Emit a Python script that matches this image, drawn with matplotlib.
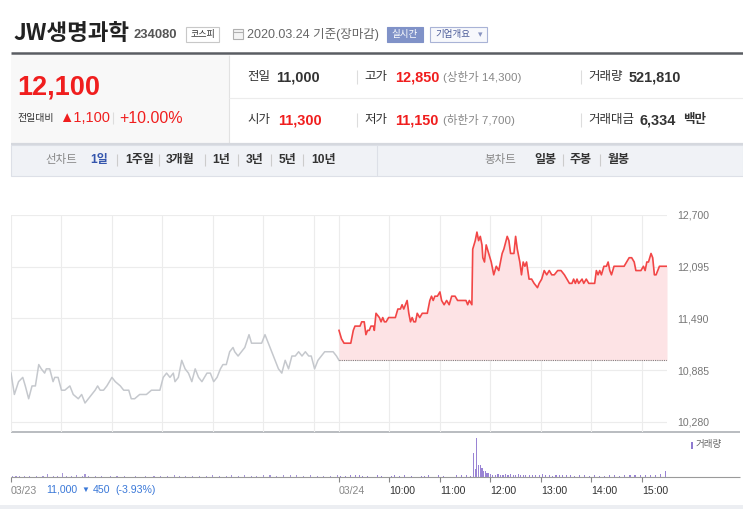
import matplotlib
matplotlib.use('Agg')
import matplotlib.pyplot as plt
from matplotlib.patches import Rectangle

plt.rcParams['font.family'] = ['Liberation Sans', 'Noto Sans CJK KR', 'DejaVu Sans']

# ---------------- data ----------------
# 03/23 (previous day) minute closes, minutes after 09:00
day1_t = [0, 4, 9, 14, 17, 21, 25, 29, 33, 36,
          40, 42, 46, 50, 52, 56, 60, 64, 70, 74,
          80, 84, 88, 92, 96, 100, 103, 106, 110, 114,
          120, 124, 130, 134, 140, 143, 147, 153, 161, 167,
          173, 177, 181, 185, 189, 193, 195, 199, 203, 207,
          211, 215, 219, 223, 227, 233, 237, 241, 245, 249,
          252, 256, 260, 264, 266, 270, 274, 278, 283, 286,
          292, 298, 302, 306, 310, 314, 318, 322, 326, 330,
          334, 338, 342, 346, 350, 354, 357, 361, 365, 369,
          373, 377, 383, 387, 390]
day1_p = [10850, 10600, 10750, 10800, 10700, 10550, 10700, 10700, 10950, 10900,
          10850, 10900, 10900, 10750, 10800, 10800, 10650, 10650, 10700, 10600,
          10550, 10600, 10500, 10550, 10600, 10650, 10700, 10650, 10650, 10700,
          10800, 10750, 10700, 10650, 10650, 10550, 10550, 10600, 10600, 10650,
          10650, 10650, 10800, 10850, 10800, 10850, 10750, 10800, 11000, 10900,
          10850, 10750, 10900, 10800, 10750, 10850, 10850, 10750, 10800, 10900,
          10950, 10950, 11100, 11150, 11100, 11050, 11100, 11150, 11300, 11200,
          11200, 11200, 11300, 11200, 11100, 11000, 10900, 10850, 11000, 10900,
          11050, 11050, 11100, 11050, 11100, 11050, 11050, 10900, 11000, 11050,
          11100, 11100, 11100, 11050, 11000]

# 03/24 minute closes, minutes after 09:00
day2_t = [0, 3, 6, 14, 17, 19, 25, 27, 30, 32,
          34, 36, 38, 41, 42, 44, 48, 50, 52, 54,
          56, 59, 67, 70, 73, 75, 77, 79, 81, 83,
          85, 87, 89, 91, 93, 96, 99, 105, 108, 110,
          112, 114, 117, 120, 122, 125, 128, 131, 134, 138,
          141, 151, 153, 155, 158, 159, 162, 164, 166, 168,
          170, 171, 173, 175, 178, 181, 184, 187, 190, 194,
          196, 200, 202, 204, 208, 210, 212, 215, 217, 219,
          221, 223, 226, 229, 232, 236, 238, 241, 244, 247,
          250, 253, 256, 260, 264, 268, 271, 274, 277, 279,
          281, 283, 285, 289, 291, 294, 297, 304, 306, 308,
          310, 312, 315, 318, 320, 322, 324, 327, 330, 332,
          335, 339, 342, 345, 348, 351, 353, 356, 359, 362,
          364, 366, 368, 371, 373, 375, 377, 381, 385, 390]
day2_p = [11350, 11250, 11200, 11200, 11350, 11400, 11400, 11450, 11450, 11300,
          11350, 11350, 11400, 11400, 11350, 11550, 11500, 11450, 11500, 11450,
          11450, 11500, 11500, 11600, 11600, 11650, 11600, 11650, 11700, 11550,
          11450, 11500, 11450, 11450, 11550, 11500, 11550, 11550, 11700, 11750,
          11700, 11750, 11750, 11800, 11700, 11650, 11700, 11650, 11750, 11750,
          11700, 11700, 11650, 11700, 11650, 12300, 12400, 12500, 12400, 12450,
          12350, 12200, 12150, 12350, 12250, 12150, 12000, 12100, 12050, 12250,
          12300, 12450, 12400, 12250, 12250, 12450, 12300, 12150, 12000, 12150,
          12100, 12150, 11950, 11950, 11900, 11850, 11900, 11950, 12050, 12000,
          12050, 12000, 12000, 12050, 12050, 12000, 11950, 11900, 11900, 11950,
          11900, 11950, 11900, 11950, 11900, 11950, 11900, 11900, 12050, 12000,
          12050, 12000, 12100, 12100, 12150, 12050, 12000, 12100, 12100, 12100,
          12100, 12100, 12150, 12200, 12200, 12150, 12050, 12050, 12050, 12100,
          12050, 12150, 12150, 12250, 12200, 12000, 12000, 12100, 12100, 12100]

prev_close = 11000

vol1_t = [2, 6, 10, 16, 22, 30, 38, 43, 50, 55,
          61, 66, 72, 78, 85, 88, 92, 100, 108, 118,
          126, 135, 148, 160, 170, 178, 186, 194, 200, 208,
          216, 224, 232, 240, 248, 256, 262, 270, 278, 286,
          292, 300, 308, 316, 324, 332, 340, 348, 356, 364,
          372, 380, 388]
vol1_v = [1200, 800, 1500, 1000, 1200, 900, 1500, 3500, 1000, 1200,
          6000, 1500, 1000, 1800, 1200, 4000, 1500, 1000, 1200, 900,
          1500, 1000, 1200, 800, 1500, 1200, 1000, 1800, 1500, 1200,
          1000, 1500, 1200, 1800, 1500, 1200, 2000, 1500, 1800, 1200,
          1500, 2000, 1800, 1500, 2200, 1800, 2000, 1500, 1800, 1200,
          1500, 1000, 1800]

vol2_t = [2, 8, 14, 20, 24, 28, 34, 46, 50, 62, 66, 72, 78, 86, 98, 102, 106, 118, 124, 140, 146, 152, 156,
          160, 162, 164, 166, 168, 170, 172, 174, 176, 178, 180,
          183, 186, 189, 192, 195, 198, 201, 204, 207, 210, 213, 216, 219, 222,
          226, 230, 234, 238, 242, 246, 250, 254, 258, 262, 266, 270,
          275, 280,
          286, 292, 298, 304, 310, 316, 322, 328, 334, 340, 346, 352, 358, 364, 370, 376, 382, 388]
vol2_v = [1500, 1200, 2000, 1800, 2500, 1500, 1200, 1800, 1500, 1300, 2000, 1500, 1800, 1200, 1500, 1200, 2200, 1800, 1500, 2500, 3000, 2000, 1500,
          37000, 12000, 60000, 18500, 17500, 13000, 9000, 8000, 5000, 5000, 3700,
          3000, 2500, 3500, 3000, 2200, 3500, 3000, 4000, 3000, 2500, 3500, 2000, 3000, 2500,
          2000, 3000, 1800, 2500, 3500, 2000, 2800, 1500, 2200, 3000, 1800, 2500,
          2000, 1500,
          1800, 2500, 1500, 2000, 1500, 1200, 2000, 2500, 1500, 3000, 2200, 2500, 1800, 2000, 2500, 3000, 3500, 8000]

y_ticks = [10280, 10885, 11490, 12095, 12700]
grid_x = [0, 60, 120, 180, 240, 300, 360, 390, 450, 510, 570, 630, 690, 750]
x_ticks = [0, 390, 450, 510, 570, 630, 690, 750]
x_labels = ['03/23', '03/24', '10:00', '11:00', '12:00', '13:00', '14:00', '15:00']

# ---------------- figure ----------------
W, H = 743, 509
fig = plt.figure(figsize=(W / 100, H / 100), dpi=100)
bg = fig.add_axes([0, 0, 1, 1])
bg.set_xlim(0, W)
bg.set_ylim(H, 0)
bg.axis('off')

RED = '#f01e1e'
DARK = '#333333'
GRAY = '#888888'


def pt(p):
    return p * 0.72


def T(x, y, s, size, color=DARK, weight='normal', ha='left', va='center', family=None):
    kw = dict(fontsize=pt(size), color=color, fontweight=weight, ha=ha, va=va)
    if family is not None:
        kw['family'] = family
    bg.text(x, y, s, **kw)


def vline(x, y0, y1, color='#dddddd', lw=0.8):
    bg.plot([x, x], [y0, y1], color=color, lw=lw, solid_capstyle='butt')


def hline(y, x0, x1, color='#dddddd', lw=0.8):
    bg.plot([x0, x1], [y, y], color=color, lw=lw, solid_capstyle='butt')


# header title line
T(13, 33, 'JW생명과학', 22.5, '#222222', 'bold', family=['Noto Sans CJK KR'])
T(134, 34.5, '234080', 13, '#555555', 'bold')
bg.add_patch(Rectangle((186, 27), 33, 14.5, fc='white', ec='#c8c8c8', lw=0.8))
T(202.5, 34.5, '코스피', 9, DARK, ha='center', family=['Noto Sans CJK KR'])
bg.add_patch(Rectangle((233, 29), 10, 10, fc='#f4f4f4', ec='#b0b0b0', lw=0.8))
hline(32, 233, 243, '#b0b0b0', 0.8)
T(247, 34.5, '2020.03.24 기준(장마감)', 12.5, '#666666')
bg.add_patch(Rectangle((387, 27), 36, 15, fc='#8092c8', ec='#8092c8', lw=0.8))
T(405, 34.5, '실시간', 9.5, 'white', ha='center', family=['Noto Sans CJK KR'])
bg.add_patch(Rectangle((430, 27), 57, 15, fc='#f7f8fc', ec='#a9b3d6', lw=0.8))
T(435, 34.5, '기업개요', 9.5, '#4b5b99', family=['Noto Sans CJK KR'])
T(480, 35, '▾', 9, '#8893bf', ha='center', family=['DejaVu Sans'])

hline(53, 11, 743, '#5a5d63', 1.8)

# price summary panel
bg.add_patch(Rectangle((11, 55), 217.5, 88, fc='#f8f8f8', ec='none'))
vline(228.5, 55, 143, '#e2e2e2', 0.8)
hline(98, 229, 743, '#ececec', 0.8)
hline(143.5, 11, 743, '#d5d8de', 1.6)

T(17, 87, '12,100', 27, RED, 'bold')
T(17, 118, '전일대비', 10, DARK, family=['Noto Sans CJK KR'])
T(59, 118, '▲1,100', 14.5, RED)
vline(113, 112, 124, '#dddddd')
T(119, 118, '+10.00%', 16, RED)

r1, r2 = 77, 120
T(247, r1, '전일', 12.5, DARK)
T(276, r1, '11,000', 14.5, DARK, 'bold')
vline(357, r1 - 7, r1 + 7)
T(364, r1, '고가', 12.5, DARK)
T(395, r1, '12,850', 14.5, RED, 'bold')
T(443, r1, '(상한가 14,300)', 11.5, GRAY)
vline(581, r1 - 7, r1 + 7)
T(588, r1, '거래량', 12.5, DARK)
T(629, r1, '521,810', 14.5, DARK, 'bold')

T(247, r2, '시가', 12.5, DARK)
T(278, r2, '11,300', 14.5, RED, 'bold')
vline(357, r2 - 7, r2 + 7)
T(364, r2, '저가', 12.5, DARK)
T(395, r2, '11,150', 14.5, RED, 'bold')
T(443, r2, '(하한가 7,700)', 11.5, GRAY)
vline(581, r2 - 7, r2 + 7)
T(588, r2, '거래대금', 12.5, DARK)
T(640, r2, '6,334', 14.5, DARK, 'bold')
T(683, r2, '백만', 12.5, DARK, 'bold')

# tab bar
bg.add_patch(Rectangle((11, 145), 732, 31, fc='#f0f2f6', ec='#dde0e7', lw=0.8))
vline(377, 145, 176, '#dde0e7')
ty = 160
T(45, ty, '선차트', 11.5, GRAY)
T(90, ty, '1일', 12, '#3556ad', 'bold')
tabs = [(125, '1주일'), (166, '3개월'), (212, '1년'), (246, '3년'), (279, '5년'), (311, '10년')]
for x, s in tabs:
    T(x, ty, s, 12, DARK, 'bold')
for x in [117, 159, 205, 238, 271, 303]:
    vline(x, ty - 6, ty + 6, '#cccccc')
T(484, ty, '봉차트', 11.5, GRAY)
for x, s in [(534, '일봉'), (570, '주봉'), (608, '월봉')]:
    T(x, ty, s, 12, DARK, 'bold')
for x in [563, 600]:
    vline(x, ty - 6, ty + 6, '#cccccc')

# ---------------- price chart ----------------
ax = fig.add_axes([11 / W, 1 - 432 / H, 656 / W, 217 / H])
ax.set_xlim(0, 780)
ax.set_ylim(10161, 12700)
for s in ax.spines.values():
    s.set_visible(False)
ax.patch.set_visible(False)
ax.set_xticks(grid_x)
ax.set_yticks(y_ticks)
ax.set_yticklabels([f'{v:,}' for v in y_ticks])
ax.yaxis.tick_right()
ax.tick_params(axis='y', length=0, pad=pt(10), labelsize=pt(10.5), labelcolor='#777777')
ax.tick_params(axis='x', length=0, labelbottom=False)
ax.grid(True, color='#ececec', lw=0.8)
ax.set_axisbelow(True)

ax.plot(day1_t, day1_p, color='#c5c8cd', lw=1.1)
d2x = [390 + t for t in day2_t]
ax.fill_between(d2x, day2_p, prev_close, color='#fde3e5', lw=0)
ax.plot([390, 780], [prev_close, prev_close], color='#808080', lw=0.8, ls=(0, (1, 1)))
ax.plot(d2x, day2_p, color='#f24646', lw=1.2)

hline(432, 11, 740, '#b3b6bb', 1.3)

# ---------------- volume ----------------
vax = fig.add_axes([11 / W, 1 - 476.5 / H, 656 / W, 44.5 / H])
vax.set_xlim(0, 780)
vax.set_ylim(0, 70000)
for s in vax.spines.values():
    s.set_visible(False)
vax.patch.set_visible(False)
vax.bar(vol1_t, vol1_v, width=1.3, color='#a796d8', lw=0)
vax.bar([390 + t for t in vol2_t], vol2_v, width=1.3, color='#9a84d4', lw=0)
vax.yaxis.set_visible(False)
vax.set_xticks(x_ticks)
vax.set_xticklabels(x_labels)
vax.tick_params(axis='x', direction='out', length=pt(5), width=0.8, color='#888888',
                pad=pt(4), labelsize=pt(10.5), labelcolor=DARK)
for i, lab in enumerate(vax.get_xticklabels()):
    lab.set_horizontalalignment('left')
    if i < 2:
        lab.set_color(GRAY)

hline(476.5, 11, 740, '#9a9a9a', 0.8)

BLUE = '#3a78d8'
T(46, 490, '11,000', 10.5, BLUE)
T(81, 490, '▼', 8, BLUE)
T(93, 490, '450', 10.5, BLUE)
T(115, 490, '(-3.93%)', 10.5, BLUE)

bg.add_patch(Rectangle((690.5, 441.5), 2.5, 7, fc='#8f7bd0', ec='none'))
T(696, 445, '거래량', 9.5, '#666666', family=['Noto Sans CJK KR'])

bg.add_patch(Rectangle((0, 504.5), 743, 5, fc='#eceef2', ec='none'))

fig.savefig('out.png', dpi=100)
